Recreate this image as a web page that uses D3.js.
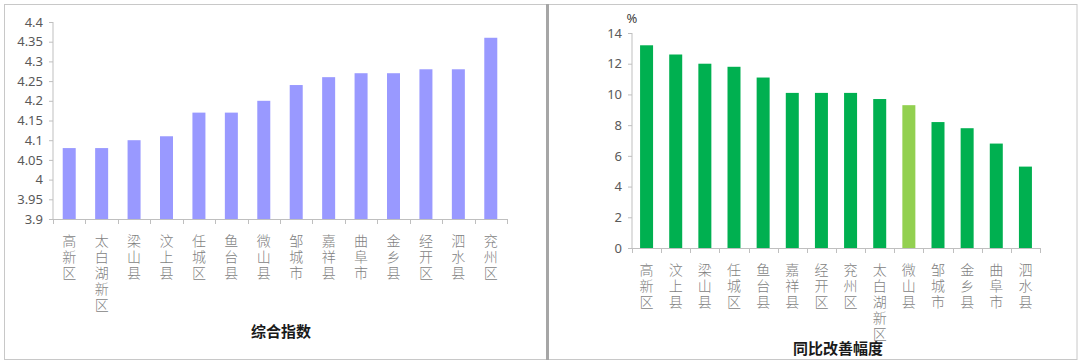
<!DOCTYPE html>
<html>
<head>
<meta charset="utf-8">
<script src="https://cdn.jsdelivr.net/npm/d3@7"></script>
<style>
  body { margin: 0; background: #fff; }
  svg { display: block; }
  .axis path, .axis line { stroke: #bfbfbf; }
  .axis text { font-family: "Noto Sans", sans-serif; font-size: 13px; fill: #595959; }
</style>
</head>
<body>
<div id="chart"></div>
<script>
// ==== Data ====
const leftCats = ["高新区","太白湖新区","梁山县","汶上县","任城区","鱼台县","微山县","邹城市","嘉祥县","曲阜市","金乡县","经开区","泗水县","兖州区"];
const leftVals = [4.08,4.08,4.10,4.11,4.17,4.17,4.20,4.24,4.26,4.27,4.27,4.28,4.28,4.36];
const leftTicks = [3.9,3.95,4,4.05,4.1,4.15,4.2,4.25,4.3,4.35,4.4];
const leftTitle = "综合指数";

const rightCats = ["高新区","汶上县","梁山县","任城区","鱼台县","嘉祥县","经开区","兖州区","太白湖新区","微山县","邹城市","金乡县","曲阜市","泗水县"];
const rightVals = [13.2,12.6,12.0,11.8,11.1,10.1,10.1,10.1,9.7,9.3,8.2,7.8,6.8,5.3];
const rightTicks = [0,2,4,6,8,10,12,14];
const rightTitle = "同比改善幅度";
const rightUnit = "%";
const highlight = "微山县";

// ==== Setup ====
const svg = d3.select("#chart").append("svg")
    .attr("width", 1080)
    .attr("height", 364);

// panel frames
svg.append("rect").attr("x", 4.5).attr("y", 4.5).attr("width", 542).attr("height", 355)
    .attr("fill", "none").attr("stroke", "#c8c8c8");
svg.append("rect").attr("x", 548).attr("y", 4.5).attr("width", 529).attr("height", 355)
    .attr("fill", "none").attr("stroke", "#c8c8c8");
svg.append("line").attr("x1", 547.5).attr("x2", 547.5).attr("y1", 4).attr("y2", 360)
    .attr("stroke", "#a6a6a6").attr("stroke-width", 3);

function drawPanel(o) {
    const g = svg.append("g");

    const xScale = d3.scaleBand().domain(o.cats).range(o.xRange);
    const yScale = d3.scaleLinear().domain(o.yDomain).range(o.yRange);

    // bars
    const bw = 13;
    g.selectAll(".bar").data(o.cats).join("rect")
        .attr("class", "bar")
        .attr("x", d => xScale(d) + xScale.bandwidth() / 2 - bw / 2)
        .attr("width", bw)
        .attr("y", (d, i) => yScale(o.vals[i]))
        .attr("height", (d, i) => yScale(o.yDomain[0]) - yScale(o.vals[i]))
        .attr("fill", d => o.color(d));

    // y axis
    const yAxis = d3.axisLeft(yScale)
        .tickValues(o.ticks)
        .tickSize(4)
        .tickPadding(6)
        .tickFormat(d => String(+d.toFixed(2)));
    g.append("g").attr("class", "axis")
        .attr("transform", `translate(${o.xRange[0]},0)`)
        .call(yAxis)
        .call(s => s.select(".domain").attr("d", `M0,${o.yRange[0]}V${o.yRange[1]}`));

    // x axis baseline + boundary ticks
    const y0 = yScale(o.yDomain[0]);
    const ax = g.append("g").attr("class", "axis");
    ax.append("line").attr("x1", o.xRange[0]).attr("x2", o.xRange[1])
        .attr("y1", y0 + 0.5).attr("y2", y0 + 0.5);
    const bounds = o.cats.map(d => xScale(d)).concat([o.xRange[1]]);
    ax.selectAll(".bt").data(bounds).join("line")
        .attr("x1", d => Math.round(d) + 0.5).attr("x2", d => Math.round(d) + 0.5)
        .attr("y1", y0).attr("y2", y0 + 5);

    // vertical category labels
    o.cats.forEach(c => {
        const cx = xScale(c) + xScale.bandwidth() / 2;
        Array.from(c).forEach((ch, k) => {
            g.append("text")
                .attr("x", cx).attr("y", y0 + 21 + k * 16)
                .attr("text-anchor", "middle")
                .attr("dominant-baseline", "central")
                .style("font-family", "'Noto Sans CJK SC', sans-serif")
                .style("font-size", "14px")
                .style("font-weight", 300)
                .attr("fill", "#7f7f7f")
                .text(ch);
        });
    });

    // title
    g.append("text")
        .attr("x", o.titlePos[0]).attr("y", o.titlePos[1])
        .attr("text-anchor", "middle")
        .attr("dominant-baseline", "central")
        .style("font-family", "'Noto Sans CJK SC', sans-serif")
        .style("font-size", "15px")
        .style("font-weight", "bold")
        .attr("fill", "#1a1a1a")
        .text(o.title);
    return g;
}

drawPanel({
    cats: leftCats, vals: leftVals, ticks: leftTicks,
    xRange: [53, 507], yRange: [219, 22], yDomain: [3.9, 4.4],
    color: () => "#9999ff",
    title: leftTitle, titlePos: [281, 330]
});

const right = drawPanel({
    cats: rightCats, vals: rightVals, ticks: rightTicks,
    xRange: [632, 1040], yRange: [248, 33], yDomain: [0, 14],
    color: d => d === highlight ? "#92d050" : "#00b050",
    title: rightTitle, titlePos: [838, 347]
});

right.append("text")
    .attr("x", 632).attr("y", 18)
    .attr("text-anchor", "middle")
    .attr("dominant-baseline", "central")
    .style("font-family", "'Noto Sans', sans-serif")
    .style("font-size", "13px")
    .attr("fill", "#404040")
    .text(rightUnit);
</script>
</body>
</html>
